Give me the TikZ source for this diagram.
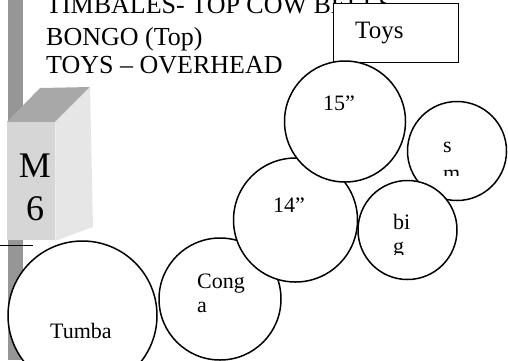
\documentclass[tikz,border=0pt]{standalone}
\usepackage{fontspec}
\setmainfont{Liberation Serif}
\definecolor{barcol}{RGB}{150,150,150}
\definecolor{topcol}{RGB}{168,168,168}
\definecolor{frontcol}{RGB}{214,214,214}
\definecolor{sidecol}{RGB}{230,230,230}
\tikzset{
  hdr/.style={anchor=base west, inner sep=0pt, font=\fontsize{26}{30}\selectfont},
  lbl/.style={anchor=base west, inner sep=0pt, font=\fontsize{22}{26}\selectfont},
  big/.style={anchor=base, inner sep=0pt, font=\fontsize{36}{40}\selectfont},
  drum/.style={circle, draw=black, fill=white, line width=1.5pt, inner sep=0pt},
  toysbox/.style={rectangle, draw=black, fill=white, line width=1.2pt, inner sep=0pt, anchor=north west}
}
\begin{document}
\begin{tikzpicture}[x=1pt,y=-1pt]
\useasboundingbox (0,0) rectangle (508,360);
\clip (0,0) rectangle (508,360);
% gray bar
\fill[barcol] (8,0) rectangle (23,360);
% 3D box M6
\fill[topcol] (7,122) -- (40,88) -- (90,87) -- (55,122) -- cycle;
\fill[sidecol] (55,122) -- (90,87) -- (93,227) -- (58,240) -- (55,240) -- cycle;
\fill[frontcol] (7,122) rectangle (55,240);
\draw[white!92!black, line width=0.6pt] (55,122) -- (55,240);
\node[big] (m) at (35,177) {M};
\node[big] (six) at (35,220) {6};
% short line
\coordinate (l1) at (0,245);
\coordinate (l2) at (33,245);
\draw[line width=1pt] (l1) -- (l2);
% header text
\node[hdr] (t1) at (46,13) {TIMBALES- TOP COW BELLS};
\node[hdr] (t2) at (46,45) {BONGO (Top)};
\node[hdr] (t3) at (46,73) {TOYS – OVERHEAD};
% Toys box
\node[toysbox, minimum width=125pt, minimum height=59pt] (toys) at (333,3) {};
\node[hdr, font=\fontsize{25}{29}\selectfont] (toystxt) at (355,38) {Toys};
% drums
\node[drum, minimum size=149pt] (tumba) at (82.5,315.5) {};
\node[drum, minimum size=122pt] (conga) at (220,299) {};
\node[drum, minimum size=124pt] (c14) at (295.5,220) {};
\node[drum, minimum size=121pt] (c15) at (345,121.5) {};
\node[drum, minimum size=99pt] (sm) at (457,151) {};
\node[drum, minimum size=99pt] (bigc) at (407.5,230) {};
% labels
\node[lbl] (l15) at (323,110) {15”};
\node[lbl] (l14) at (273,212) {14”};
\node[lbl] (ls) at (443,152) {s};
\begin{scope}
\clip (420,100) rectangle (480,175);
\node[lbl] (lm) at (443,180) {m};
\end{scope}
\node[lbl] (lbi) at (393,229) {bi};
\begin{scope}
\clip (380,200) rectangle (440,254);
\node[lbl] (lg) at (393,253) {g};
\end{scope}
\node[lbl] (lcong) at (197,288) {Cong};
\node[lbl] (la) at (197,312) {a};
\node[lbl] (ltumba) at (50,338) {Tumba};
\end{tikzpicture}
\end{document}
